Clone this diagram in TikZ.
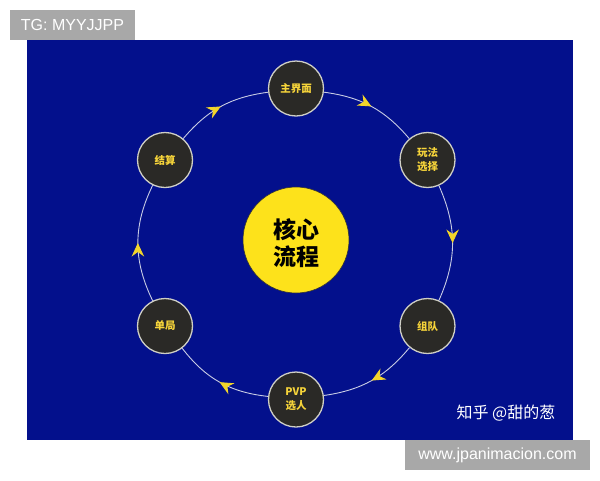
\documentclass[tikz,border=0pt]{standalone}
\usepackage{fontspec}
\setmainfont{Liberation Sans}
\newfontfamily\cjk{Noto Sans CJK SC}
\usetikzlibrary{arrows.meta,decorations.markings}
\definecolor{bgblue}{HTML}{03108C}
\definecolor{nodefill}{HTML}{2A2926}
\definecolor{nodeedge}{HTML}{CFCFC6}
\definecolor{txtyellow}{HTML}{F6D43A}
\definecolor{coreyellow}{HTML}{FDE21B}
\definecolor{arcline}{HTML}{C8CCE4}
\definecolor{arrowyellow}{HTML}{F3D52A}
\definecolor{taggray}{HTML}{A8A8A8}
\tikzset{
  stepnode/.style={circle, draw=nodeedge, line width=1.3pt, fill=nodefill,
    minimum size=55pt, inner sep=0pt, align=center, text=txtyellow,
    font=\cjk\bfseries\fontsize{10.5}{14}\selectfont},
  corenode/.style={circle, draw=black!80, line width=0.6pt, fill=coreyellow,
    minimum size=106pt, inner sep=0pt},
  coretext/.style={align=center, text=black, inner sep=0pt,
    font=\cjk\bfseries\fontsize{23}{26.5}\selectfont},
  tagbox/.style={fill=taggray, text=white, inner sep=0pt,
    font=\fontsize{16}{19}\selectfont},
  flow/.style={draw=arcline, line width=0.9pt,
    postaction={decorate},
    decoration={markings, mark=at position 0.5 with
      {\arrow{Stealth[length=13.5pt,width=12.5pt,inset=4.5pt,fill=arrowyellow,color=arrowyellow]}}}},
}
\begin{document}
\begin{tikzpicture}[x=1pt,y=-1pt]
\useasboundingbox (0,0) rectangle (600,480);
\fill[white] (0,0) rectangle (600,480);
\fill[bgblue] (27,40) rectangle (573,440);
\node[tagbox, minimum width=125pt, minimum height=30pt] (tg) at (72.5,25) {TG: MYYJJPP};
\node[tagbox, minimum width=185pt, minimum height=30pt] (www) at (497.5,455) {www.jpanimacion.com};
\node[text=white, font=\cjk\fontsize{16}{18}\selectfont] (zh) at (506,413) {知乎 @甜的葱};

\node[corenode] (core) at (296,240) {};
\node[coretext] (coretxt) at (296,243) {核心\\流程};

\node[stepnode] (main) at (296,88.5) {主界面};
\node[stepnode] (mode) at (427.5,160) {玩法\\选择};
\node[stepnode] (team) at (427.5,326) {组队};
\node[stepnode] (pvp) at (296,399.5) {PVP\\选人};
\node[stepnode] (game) at (165,326) {单局};
\node[stepnode] (settle) at (165,160) {结算};

\draw[flow] (main) to[bend left=21] (mode);
\draw[flow] (mode) to[bend left=24] (team);
\draw[flow] (team) to[bend left=21] (pvp);
\draw[flow] (pvp) to[bend left=23] (game);
\draw[flow] (game) to[bend left=26] (settle);
\draw[flow] (settle) to[bend left=21] (main);
\end{tikzpicture}
\end{document}
